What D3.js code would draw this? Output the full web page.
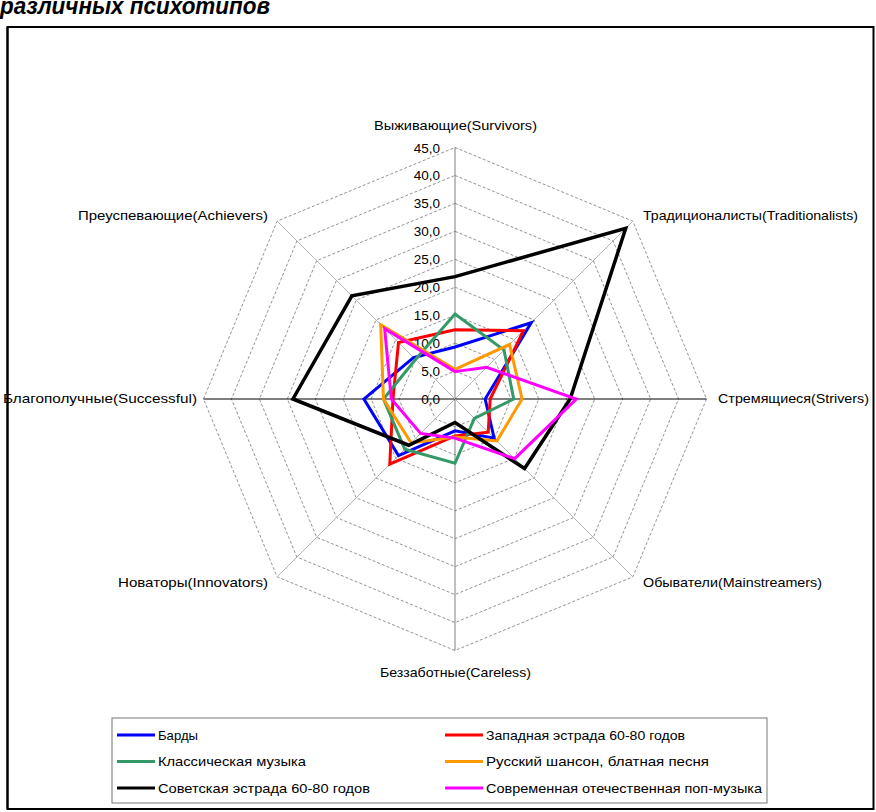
<!DOCTYPE html>
<html><head><meta charset="utf-8">
<script src="https://cdn.jsdelivr.net/npm/d3@7"></script>
<style>
html,body{margin:0;padding:0;background:#fff;}
svg{display:block;}
text{font-family:"Liberation Sans",Arial,sans-serif;}
</style></head>
<body>
<svg id="c" width="876" height="812"></svg>
<script>
const categories = ["Выживающие(Survivors)","Традиционалисты(Traditionalists)","Стремящиеся(Strivers)","Обыватели(Mainstreamers)","Беззаботные(Careless)","Новаторы(Innovators)","Благополучные(Successful)","Преуспевающие(Achievers)"];
const seriesNames = ["Барды","Западная эстрада 60-80 годов","Классическая музыка","Русский шансон, блатная песня","Советская эстрада 60-80 годов","Современная отечественная поп-музыка"];
const bardy     = [9.3, 19.3, 5.4, 9.9, 5.7, 14.3, 16.3, 10.5];
const western   = [12.4, 17.3, 6.3, 8.4, 6.6, 16.5, 11.1, 14.3];
const classical = [15.2, 12.4, 10.5, 4.9, 11.5, 12.7, 12.8, 10.0];
const chanson   = [5.3, 13.8, 12.0, 10.6, 6.8, 11.1, 12.8, 18.8];
const soviet    = [21.9, 43.2, 20.6, 17.6, 4.2, 11.7, 29.0, 26.1];
const pop       = [4.9, 8.0, 21.7, 15.1, 7.0, 8.7, 11.4, 17.8];
const tickValues = [0,5,10,15,20,25,30,35,40,45];
const colors = ["#0000FF","#FF0000","#339966","#FF9900","#000000","#FF00FF"];
const seriesData = [bardy, western, classical, chanson, soviet, pop];

const svg = d3.select("#c");
const cx = 455, cy = 399, R = 251.5;
const r = d3.scaleLinear().domain([0,45]).range([0,R]);
const ang = d3.scalePoint().domain(d3.range(categories.length)).range([0, 2*Math.PI*(categories.length-1)/categories.length]);
const pt = (i,v) => [cx + r(v)*Math.sin(ang(i)), cy - r(v)*Math.cos(ang(i))];

// title (lower part of a two-line title, as in the source)
svg.append("text").attr("x",0).attr("y",14).attr("font-size",24).attr("font-weight","bold").attr("font-style","italic")
  .attr("textLength",270).attr("lengthAdjust","spacingAndGlyphs").text("различных психотипов");

// frame
svg.append("rect").attr("x",7.5).attr("y",27).attr("width",866).attr("height",782).attr("fill","none").attr("stroke","#000").attr("stroke-width",2);

const g = svg.append("g");
// grid octagons
tickValues.slice(1).forEach(t=>{
  const pts = categories.map((c,i)=>pt(i,t));
  g.append("polygon").attr("points",pts.map(p=>p.join(",")).join(" "))
   .attr("fill","none").attr("stroke","#777").attr("stroke-width",0.8).attr("stroke-dasharray","3,2");
});
// spokes
categories.forEach((c,i)=>{
  const p = pt(i,45);
  const horiz = (i===2||i===6), vert=(i===0||i===4);
  g.append("line").attr("x1",cx).attr("y1",cy).attr("x2",p[0]).attr("y2",p[1])
   .attr("stroke", horiz?"#000":(vert?"#808080":"#b4b4b4")).attr("stroke-width",1);
});
// tick labels
tickValues.forEach(t=>{
  g.append("text").attr("x",cx-15).attr("y",cy - r(t)+5).attr("text-anchor","end")
   .attr("font-size",13.5).text(d3.format(".1f")(t).replace(".",","));
});
// axis labels
const lab = [
  {x:374,y:130,w:163},
  {x:643,y:220,w:215},
  {x:718,y:403,w:151},
  {x:643,y:587,w:179},
  {x:380,y:677,w:151},
  {x:118,y:587,w:150},
  {x:3,y:403,w:194},
  {x:78,y:220,w:190}
];
categories.forEach((c,i)=>{
  g.append("text").attr("x",lab[i].x).attr("y",lab[i].y)
   .attr("font-size",13).attr("textLength",lab[i].w).attr("lengthAdjust","spacingAndGlyphs").text(c);
});
// series
const line = d3.lineRadial().angle((d,i)=>ang(i)).radius(d=>r(d)).curve(d3.curveLinearClosed);
seriesData.forEach((s,k)=>{
  g.append("path").attr("transform",`translate(${cx},${cy})`).attr("d",line(s))
   .attr("fill","none").attr("stroke",colors[k]).attr("stroke-width", k===4?3.5:3).attr("stroke-linejoin","miter");
});

// frame redraw on top of left label edge
svg.append("line").attr("x1",7.5).attr("x2",7.5).attr("y1",27).attr("y2",809).attr("stroke","#000").attr("stroke-width",2);

// legend
const legendW = [40,199,148,223,212,276];
const lg = svg.append("g");
lg.append("rect").attr("x",112).attr("y",718).attr("width",655).attr("height",85).attr("fill","#fff").attr("stroke","#777").attr("stroke-width",1);
seriesNames.forEach((n,k)=>{
  const col = k%2, row = Math.floor(k/2);
  const x0 = col===0?117:445, y0 = 735 + row*26.5;
  lg.append("line").attr("x1",x0).attr("x2",x0+38).attr("y1",y0).attr("y2",y0).attr("stroke",colors[k]).attr("stroke-width",3);
  lg.append("text").attr("x",x0+41).attr("y",y0+4.5).attr("font-size",13)
    .attr("textLength",legendW[k]).attr("lengthAdjust","spacingAndGlyphs").text(n);
});
</script>
</body></html>
